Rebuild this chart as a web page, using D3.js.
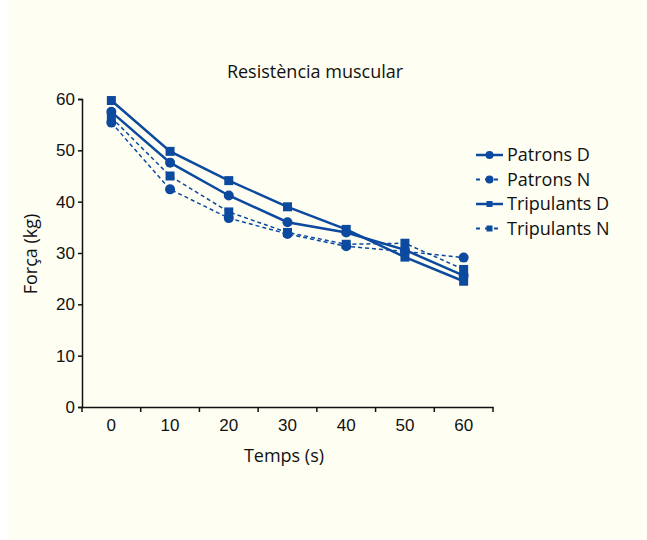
<!DOCTYPE html>
<html lang="ca">
<head>
    <meta charset="UTF-8">
    <title>Resistència muscular</title>
    <script src="https://cdn.jsdelivr.net/npm/d3@7"></script>
    <style>
        body { margin: 0; background: #ffffff; }
        svg { font-family: "Open Sans", Lato, sans-serif; }
    </style>
</head>
<body>
<div id="chart"></div>
<script>
    // chart data
    var temps = ['0', '10', '20', '30', '40', '50', '60'];
    var seriesNames = ['Patrons D', 'Patrons N', 'Tripulants D', 'Tripulants N'];
    var patronsD = [57.5, 47.6, 41.2, 36.0, 34.0, 30.6, 25.6];
    var patronsN = [55.4, 42.4, 36.8, 33.7, 31.3, 30.3, 29.1];
    var tripulantsD = [59.7, 49.8, 44.1, 39.0, 34.6, 29.2, 24.5];
    var tripulantsN = [56.4, 45.0, 38.0, 34.0, 31.7, 31.9, 26.8];
    var yTicks = [0, 10, 20, 30, 40, 50, 60];

    var series = [
        {name: seriesNames[0], values: patronsD, dashed: false, shape: 'circle'},
        {name: seriesNames[1], values: patronsN, dashed: true, shape: 'circle'},
        {name: seriesNames[2], values: tripulantsD, dashed: false, shape: 'square'},
        {name: seriesNames[3], values: tripulantsN, dashed: true, shape: 'square'}
    ];

    var W = 647, H = 540;
    var blue = '#0b4a9e', ink = '#111111';
    var plotLeft = 82, plotRight = 493, plotTop = 99, plotBottom = 407;

    var svg = d3.select('#chart').append('svg')
        .attr('width', W).attr('height', H);

    svg.append('rect')
        .attr('x', 8).attr('y', 0)
        .attr('width', W - 8).attr('height', 539)
        .attr('fill', '#fffef2');

    var x = d3.scaleBand().domain(temps).range([plotLeft, plotRight]);
    var y = d3.scaleLinear().domain([0, 60]).range([plotBottom, plotTop]);

    // y axis
    var yAxis = svg.append('g')
        .attr('transform', 'translate(' + plotLeft + ',0)')
        .call(d3.axisLeft(y).tickValues(yTicks).tickSize(4).tickPadding(3));
    yAxis.selectAll('text').attr('font-size', 17).attr('fill', ink);

    // x axis: ticks between categories
    var xAxis = svg.append('g')
        .attr('transform', 'translate(0,' + plotBottom + ')')
        .call(d3.axisBottom(x).tickSize(0).tickPadding(12));
    xAxis.selectAll('text').attr('font-size', 17).attr('fill', ink);
    var bounds = temps.map(function(t) { return x(t); }).concat([plotRight]);
    xAxis.selectAll('.bound').data(bounds).enter().append('line')
        .attr('x1', function(d) { return d; }).attr('x2', function(d) { return d; })
        .attr('y1', 0).attr('y2', 5)
        .attr('stroke', ink).attr('stroke-width', 1.5);

    [yAxis, xAxis].forEach(function(a) {
        a.select('.domain').attr('stroke', ink).attr('stroke-width', 1.5);
        a.selectAll('.tick line').attr('stroke', ink).attr('stroke-width', 1.5);
    });

    var cx = function(i) { return x(temps[i]) + x.bandwidth() / 2; };

    var line = d3.line()
        .x(function(d, i) { return cx(i); })
        .y(function(d) { return y(d); });

    function drawMarker(g, shape, px, py, size) {
        if (shape === 'circle') {
            g.append('circle').attr('cx', px).attr('cy', py).attr('r', size / 2)
                .attr('fill', blue);
        } else {
            g.append('rect').attr('x', px - size / 2).attr('y', py - size / 2)
                .attr('width', size).attr('height', size).attr('fill', blue);
        }
    }

    var plot = svg.append('g');
    series.forEach(function(s) {
        plot.append('path')
            .datum(s.values)
            .attr('fill', 'none')
            .attr('stroke', blue)
            .attr('stroke-width', s.dashed ? 1.5 : 2.5)
            .attr('stroke-dasharray', s.dashed ? '4,3' : null)
            .attr('d', line);
    });
    series.forEach(function(s) {
        s.values.forEach(function(v, i) {
            drawMarker(plot, s.shape, cx(i), y(v), s.shape === 'circle' ? 10 : 9);
        });
    });

    // legend
    var legend = svg.append('g').attr('transform', 'translate(476,155)');
    series.forEach(function(s, i) {
        var g = legend.append('g').attr('transform', 'translate(0,' + (i * 24.5) + ')');
        g.append('line')
            .attr('x1', 0).attr('x2', 27).attr('y1', 0).attr('y2', 0)
            .attr('stroke', blue)
            .attr('stroke-width', s.dashed ? 2 : 2.5)
            .attr('stroke-dasharray', s.dashed ? '4,5' : null);
        drawMarker(g, s.shape, 13.5, 0, s.shape === 'circle' ? 8 : 6);
        g.append('text')
            .attr('x', 31).attr('y', 0).attr('dy', '0.35em')
            .attr('font-size', 18).attr('fill', ink)
            .text(s.name);
    });

    // title and axis labels
    svg.append('text')
        .attr('x', 315).attr('y', 78)
        .attr('text-anchor', 'middle')
        .attr('font-size', 18).attr('fill', ink)
        .text('Resistència muscular');

    svg.append('text')
        .attr('x', 284).attr('y', 462)
        .attr('text-anchor', 'middle')
        .attr('font-size', 18).attr('fill', ink)
        .text('Temps (s)');

    svg.append('text')
        .attr('transform', 'translate(37,254) rotate(-90)')
        .attr('text-anchor', 'middle')
        .attr('font-size', 18).attr('fill', ink)
        .text('Força (kg)');
</script>
</body>
</html>
